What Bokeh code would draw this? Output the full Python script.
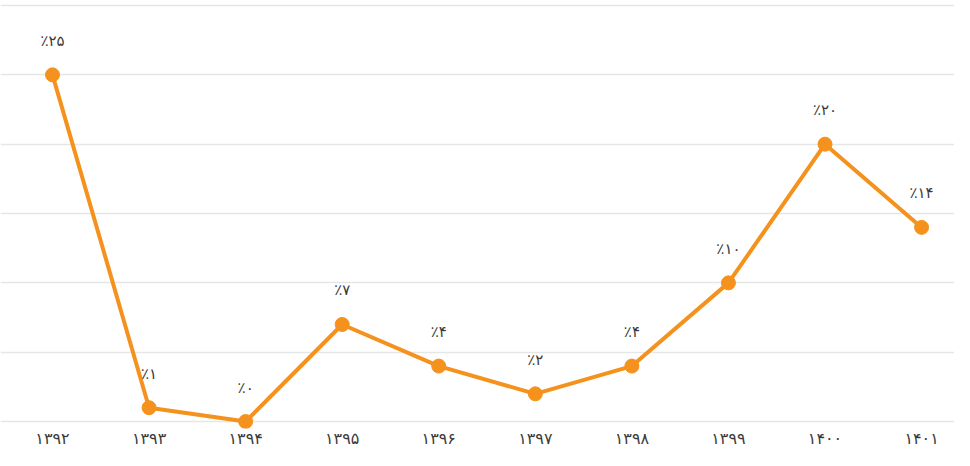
from bokeh.plotting import figure
from bokeh.models import Range1d, ColumnDataSource
from bokeh.embed import file_html
from bokeh.resources import INLINE
from bokeh.core.properties import value

years = ["۱۳۹۲", "۱۳۹۳", "۱۳۹۴", "۱۳۹۵", "۱۳۹۶", "۱۳۹۷", "۱۳۹۸", "۱۳۹۹", "۱۴۰۰", "۱۴۰۱"]
values = [25, 1, 0, 7, 4, 2, 4, 10, 20, 14]
y_ticks = [0, 5, 10, 15, 20, 25, 30]

fa_digits = str.maketrans("0123456789", "۰۱۲۳۴۵۶۷۸۹")
labels = ["٪" + str(v).translate(fa_digits) for v in values]
xs = list(range(len(years)))

src = ColumnDataSource(dict(x=xs, y=values, label=labels))

ORANGE = "#F5921E"
p = figure(width=954, height=450, output_backend="svg", toolbar_location=None,
           x_range=Range1d(-0.5385, 9.341), y_range=Range1d(-0.5, 30.36),
           min_border_left=0, min_border_right=0, min_border_top=0, min_border_bottom=16)
p.outline_line_color = None
p.background_fill_color = "white"
p.border_fill_color = "white"

p.yaxis.visible = False
p.xgrid.visible = False
p.ygrid.ticker = y_ticks
p.ygrid.grid_line_color = "#e6e6e6"
p.ygrid.grid_line_width = 1.5

p.xaxis.ticker = xs
p.xaxis.major_label_overrides = {i: y for i, y in enumerate(years)}
p.xaxis.axis_line_color = None
p.xaxis.major_tick_line_color = None
p.xaxis.minor_tick_line_color = None
p.xaxis.major_tick_out = 0
p.xaxis.major_tick_in = 0
p.xaxis.minor_tick_out = 0
p.xaxis.major_label_standoff = 0
p.xaxis.major_label_text_line_height = 1.0
p.xaxis.major_label_text_font = "DejaVu Sans"
p.xaxis.major_label_text_font_size = "16px"
p.xaxis.major_label_text_color = "#3a3a3a"

p.line("x", "y", source=src, line_color=ORANGE, line_width=4)
p.scatter("x", "y", source=src, size=14, fill_color=ORANGE, line_color=ORANGE)
p.text("x", "y", text="label", source=src, y_offset=-34, text_align="center",
       text_baseline="middle", text_font=value("DejaVu Sans"), text_font_size="15px",
       text_color="#3a3a3a")

open("out.html", "w").write(file_html(p, INLINE))
